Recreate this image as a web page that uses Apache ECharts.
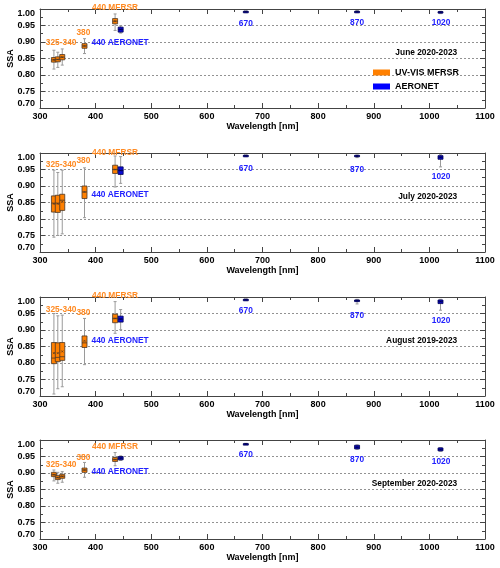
<!DOCTYPE html>
<html>
<head>
<meta charset="utf-8">
<script src="https://cdn.jsdelivr.net/npm/echarts@6/dist/echarts.min.js"></script>
<style>
  html, body { margin: 0; padding: 0; background: #fff; }
  #chart { width: 500px; height: 568px; }
</style>
</head>
<body>
<div id="chart"></div>
<script>
// panel titles
const months = ['June 2020-2023', 'July 2020-2023', 'August 2019-2023', 'September 2020-2023'];

// wavelengths (nm) where boxes sit; 440 is split 435 / 445 so both instruments show
const mfrsrWavelengths = [325, 332, 340, 380, 435];
const aeronetWavelengths = [445, 670, 870, 1020];

// each row: [min, q1, median, q3, max, mean]
const juneMfrsr = [
  [0.818, 0.839, 0.846, 0.853, 0.875, 0.846],
  [0.823, 0.840, 0.847, 0.855, 0.869, 0.847],
  [0.830, 0.846, 0.854, 0.862, 0.879, 0.854],
  [0.865, 0.881, 0.888, 0.895, 0.910, 0.888],
  [0.935, 0.955, 0.963, 0.971, 0.985, 0.963]
];
const juneAeronet = [
  [0.927, 0.930, 0.938, 0.945, 0.949, 0.938],
  [0.989, 0.991, 0.992, 0.993, 0.994, 0.992],
  [0.989, 0.990, 0.992, 0.993, 0.995, 0.992],
  [0.986, 0.989, 0.991, 0.992, 0.993, 0.991]
];
const julyMfrsr = [
  [0.745, 0.821, 0.848, 0.870, 0.948, 0.846],
  [0.750, 0.820, 0.848, 0.872, 0.941, 0.846],
  [0.755, 0.826, 0.857, 0.875, 0.948, 0.852],
  [0.804, 0.862, 0.882, 0.900, 0.955, 0.882],
  [0.897, 0.938, 0.950, 0.963, 0.991, 0.950]
];
const julyAeronet = [
  [0.908, 0.935, 0.947, 0.958, 0.989, 0.947],
  [0.989, 0.991, 0.992, 0.993, 0.994, 0.992],
  [0.986, 0.989, 0.991, 0.993, 0.994, 0.991],
  [0.958, 0.981, 0.987, 0.992, 0.995, 0.987]
];
const augustMfrsr = [
  [0.706, 0.798, 0.815, 0.862, 0.950, 0.830],
  [0.722, 0.804, 0.817, 0.861, 0.943, 0.830],
  [0.728, 0.808, 0.819, 0.862, 0.945, 0.835],
  [0.795, 0.847, 0.861, 0.882, 0.935, 0.867],
  [0.890, 0.922, 0.935, 0.948, 0.986, 0.935]
];
const augustAeronet = [
  [0.901, 0.924, 0.933, 0.942, 0.962, 0.933],
  [0.990, 0.991, 0.992, 0.993, 0.994, 0.992],
  [0.979, 0.986, 0.989, 0.991, 0.993, 0.989],
  [0.960, 0.980, 0.986, 0.991, 0.993, 0.986]
];
const septemberMfrsr = [
  [0.876, 0.889, 0.895, 0.902, 0.909, 0.895],
  [0.869, 0.880, 0.886, 0.892, 0.902, 0.886],
  [0.872, 0.884, 0.890, 0.896, 0.904, 0.890],
  [0.887, 0.902, 0.909, 0.915, 0.932, 0.909],
  [0.922, 0.935, 0.941, 0.947, 0.962, 0.941]
];
const septemberAeronet = [
  [0.938, 0.940, 0.945, 0.950, 0.952, 0.945],
  [0.987, 0.988, 0.988, 0.989, 0.990, 0.988],
  [0.972, 0.973, 0.978, 0.984, 0.985, 0.978],
  [0.966, 0.967, 0.971, 0.976, 0.977, 0.971]
];

const mfrsrByMonth = [juneMfrsr, julyMfrsr, augustMfrsr, septemberMfrsr];
const aeronetByMonth = [juneAeronet, julyAeronet, augustAeronet, septemberAeronet];

// wavelength tags, and where they are written in each panel ([nm, SSA])
const orangeTags = ['325-340', '380', '440 MFRSR'];
const blueTags = ['440 AERONET', '670', '870', '1020'];
const orangeTagPos = [
  [[338, 0.898], [378, 0.928], [435, 1.004]],
  [[338, 0.966], [378, 0.977], [435, 1.001]],
  [[338, 0.962], [378, 0.953], [435, 1.004]],
  [[338, 0.925], [378, 0.948], [435, 0.980]]
];
const blueTagPos = [
  [[444, 0.898], [670, 0.955], [870, 0.958], [1021, 0.958]],
  [[444, 0.875], [670, 0.953], [870, 0.950], [1021, 0.930]],
  [[444, 0.868], [670, 0.958], [870, 0.945], [1021, 0.930]],
  [[444, 0.906], [670, 0.955], [870, 0.942], [1021, 0.935]]
];
const monthTagPos = [1050, 0.869];

const gridTops = [9, 153, 297, 440];
const FONT = '"Liberation Sans", Arial, sans-serif';
const ORANGE = '#ff8000';
const ORANGE_TEXT = '#ff8a22';
const BLUE = '#0000ff';
const BLUE_TEXT = '#2222ff';

function boxRenderer(fill, stroke, w) {
  return function (params, api) {
    const x = api.value(0);
    const lo = api.coord([x, api.value(1)]);
    const q1 = api.coord([x, api.value(2)]);
    const md = api.coord([x, api.value(3)]);
    const q3 = api.coord([x, api.value(4)]);
    const hi = api.coord([x, api.value(5)]);
    const mn = api.coord([x, api.value(6)]);
    const cx = lo[0];
    const h = Math.max(q1[1] - q3[1], 1.5);
    const wl = { stroke: '#9a9a9a', lineWidth: 1 };
    return {
      type: 'group',
      children: [
        { type: 'line', shape: { x1: cx, y1: hi[1], x2: cx, y2: lo[1] }, style: wl },
        { type: 'line', shape: { x1: cx - 1.5, y1: hi[1], x2: cx + 1.5, y2: hi[1] }, style: wl },
        { type: 'line', shape: { x1: cx - 1.5, y1: lo[1], x2: cx + 1.5, y2: lo[1] }, style: wl },
        { type: 'rect', shape: { x: cx - w / 2, y: q3[1], width: w, height: h },
          style: { fill: fill, stroke: stroke, lineWidth: 0.8 } },
        { type: 'line', shape: { x1: cx - w / 2, y1: md[1], x2: cx + w / 2, y2: md[1] },
          style: { stroke: stroke, lineWidth: 0.8 } },
        { type: 'line', shape: { x1: cx - 1, y1: mn[1] - 1, x2: cx + 1, y2: mn[1] + 1 },
          style: { stroke: stroke, lineWidth: 0.7 } },
        { type: 'line', shape: { x1: cx - 1, y1: mn[1] + 1, x2: cx + 1, y2: mn[1] - 1 },
          style: { stroke: stroke, lineWidth: 0.7 } }
      ]
    };
  };
}

// text tags placed at data coordinates, slightly condensed like the original
function tagRenderer(tags) {
  return function (params, api) {
    const p = api.coord([api.value(0), api.value(1)]);
    const item = tags[params.dataIndex];
    return {
      type: 'text', x: p[0], y: p[1], scaleX: 0.88,
      style: {
        text: item.text, fill: item.color, align: item.align || 'center',
        verticalAlign: 'middle', fontSize: 9.5, fontWeight: 'bold', fontFamily: FONT
      }
    };
  };
}

const grids = [], xAxes = [], yAxes = [], series = [];
const axisLineStyle = { color: '#444', width: 1 };
const labelStyle = { color: '#000', fontSize: 9, fontWeight: 'bold', fontFamily: FONT };

gridTops.forEach((top, i) => {
  grids.push({ left: 40, width: 445, top: top, height: 99, containLabel: false, outerBoundsMode: 'none' });
  const xBase = {
    type: 'value', gridIndex: i, min: 300, max: 1100, interval: 100,
    axisLine: { lineStyle: axisLineStyle },
    axisTick: { inside: true, length: 5, lineStyle: { color: '#444' } },
    minorTick: { show: true, splitNumber: 2, length: 3, lineStyle: { color: '#444' } },
    splitLine: { show: false }
  };
  xAxes.push(Object.assign({}, xBase, {
    position: 'bottom',
    axisLabel: Object.assign({ margin: 4, formatter: v => String(v) }, labelStyle),
    name: 'Wavelength [nm]', nameLocation: 'middle', nameGap: 13,
    nameTextStyle: labelStyle
  }));
  xAxes.push(Object.assign({}, xBase, { position: 'top', axisLabel: { show: false } }));
  const yBase = {
    type: 'value', gridIndex: i, min: 0.7, max: 1.0, interval: 0.05,
    axisLine: { show: true, lineStyle: axisLineStyle },
    axisTick: { show: true, inside: true, length: 5, lineStyle: { color: '#444' } },
    minorTick: { show: true, splitNumber: 2, length: 3, lineStyle: { color: '#444' } }
  };
  yAxes.push(Object.assign({}, yBase, {
    position: 'left',
    axisLabel: Object.assign({
      margin: 5, formatter: v => v.toFixed(2),
      verticalAlignMinLabel: 'bottom', verticalAlignMaxLabel: 'top'
    }, labelStyle),
    splitLine: { show: true, lineStyle: { type: [2, 2], color: '#777', width: 0.8 } },
    name: 'SSA', nameLocation: 'middle', nameGap: 25, nameRotate: 90,
    nameMoveOverlap: false,
    nameTextStyle: labelStyle
  }));
  yAxes.push(Object.assign({}, yBase, {
    position: 'right', axisLabel: { show: false }, splitLine: { show: false }
  }));

  series.push({
    name: 'UV-VIS MFRSR', type: 'custom', xAxisIndex: 2 * i, yAxisIndex: 2 * i,
    itemStyle: { color: ORANGE },
    renderItem: boxRenderer(ORANGE, '#4a3626', 5),
    encode: { x: 0, y: [1, 2, 3, 4, 5] },
    data: mfrsrByMonth[i].map((r, k) => [mfrsrWavelengths[k]].concat(r)),
    silent: true, z: 3
  });
  series.push({
    name: 'AERONET', type: 'custom', xAxisIndex: 2 * i, yAxisIndex: 2 * i,
    itemStyle: { color: BLUE },
    renderItem: boxRenderer('#0a0ad6', '#000050', 5),
    encode: { x: 0, y: [1, 2, 3, 4, 5] },
    data: aeronetByMonth[i].map((r, k) => [aeronetWavelengths[k]].concat(r)),
    silent: true, z: 3
  });

  const tags = [];
  orangeTags.forEach((t, k) => tags.push({ text: t, pos: orangeTagPos[i][k], color: ORANGE_TEXT }));
  blueTags.forEach((t, k) => tags.push({ text: t, pos: blueTagPos[i][k], color: BLUE_TEXT }));
  tags.push({ text: months[i], pos: monthTagPos, color: '#000', align: 'right' });
  series.push({
    type: 'custom', xAxisIndex: 2 * i, yAxisIndex: 2 * i,
    renderItem: tagRenderer(tags),
    encode: { x: 0, y: 1 },
    data: tags.map(t => t.pos),
    clip: false, silent: true, z: 5
  });
});

const chart = echarts.init(document.getElementById('chart'), null, { renderer: 'canvas' });
chart.setOption({
  animation: false,
  backgroundColor: '#fff',
  grid: grids,
  xAxis: xAxes,
  yAxis: yAxes,
  legend: {
    data: ['UV-VIS MFRSR', 'AERONET'],
    orient: 'vertical', left: 368, top: 63,
    icon: 'rect', itemWidth: 17, itemHeight: 6, itemGap: 5,
    textStyle: { fontSize: 9, fontWeight: 'bold', color: '#000', fontFamily: FONT },
    selectedMode: false
  },
  series: series
});
</script>
</body>
</html>
